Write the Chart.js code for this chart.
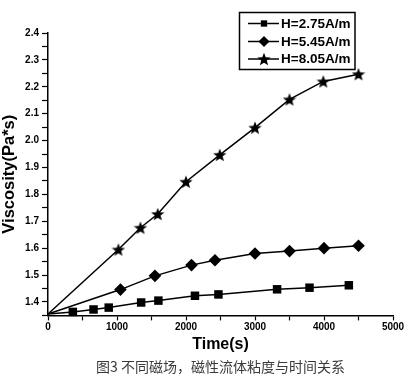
<!DOCTYPE html>
<html>
<head>
<meta charset="utf-8">
<script src="https://cdn.jsdelivr.net/npm/chart.js@4"></script>
<style>
html,body{margin:0;padding:0;background:#fff;}
#c{display:block;}
</style>
</head>
<body>
<canvas id="c" width="406" height="381"></canvas>
<script>
// ---- data ----
const seriesLabels = ["H=2.75A/m", "H=5.45A/m", "H=8.05A/m"];
const timeA = [0, 360, 660, 880, 1350, 1600, 2130, 2470, 3320, 3790, 4360];
const viscA = [1.355, 1.363, 1.372, 1.379, 1.398, 1.405, 1.423, 1.428, 1.447, 1.453, 1.462];
const timeB = [0, 1050, 1550, 2080, 2420, 3000, 3500, 4000, 4500];
const viscB = [1.355, 1.446, 1.497, 1.537, 1.555, 1.580, 1.589, 1.600, 1.609];
const timeC = [0, 1020, 1340, 1590, 2000, 2490, 3000, 3500, 3990, 4500];
const viscC = [1.355, 1.595, 1.676, 1.727, 1.847, 1.947, 2.048, 2.153, 2.220, 2.247];
const xTitle = "Time(s)";
const yTitle = "Viscosity(Pa*s)";
const caption = "图3 不同磁场，磁性流体粘度与时间关系";

// filled five-point star marker
function makeStar(size) {
  const cv = document.createElement('canvas');
  cv.width = size; cv.height = size;
  const g = cv.getContext('2d');
  const cx = size / 2, cy = size / 2 + 0.7, R = size / 2, r = R * 0.42;
  g.beginPath();
  for (let i = 0; i < 10; i++) {
    const a = -Math.PI / 2 + i * Math.PI / 5;
    const rr = i % 2 === 0 ? R : r;
    const px = cx + rr * Math.cos(a), py = cy + rr * Math.sin(a);
    i === 0 ? g.moveTo(px, py) : g.lineTo(px, py);
  }
  g.closePath();
  g.fillStyle = '#000';
  g.fill();
  return cv;
}
const starImg = makeStar(14);

function pts(xs, ys) { return xs.map((x, i) => ({x: x, y: ys[i]})); }

const datasets = [
  {label: seriesLabels[0], data: pts(timeA, viscA), pointStyle: 'rect', pointRadius: c => c.dataIndex === 0 ? 0 : 6},
  {label: seriesLabels[1], data: pts(timeB, viscB), pointStyle: 'rectRot', pointRadius: c => c.dataIndex === 0 ? 0 : 6.3},
  {label: seriesLabels[2], data: pts(timeC, viscC), pointStyle: starImg, pointRadius: c => c.dataIndex === 0 ? 0 : 7}
].map(d => Object.assign({
  showLine: true, borderColor: '#000', backgroundColor: '#000', borderWidth: 1.5,
  pointBackgroundColor: '#000', pointBorderColor: '#000', pointBorderWidth: 0,
  tension: 0, clip: false
}, d));

const legendPlugin = {
  id: 'boxLegend',
  afterDraw(chart) {
    const ctx = chart.ctx;
    ctx.save();
    const bx = 239.5, by = 12.5, bw = 115.5, bh = 57;
    ctx.fillStyle = '#fff';
    ctx.fillRect(bx, by, bw, bh);
    ctx.strokeStyle = '#000';
    ctx.lineWidth = 1.5;
    ctx.strokeRect(bx, by, bw, bh);
    const ys = [23.5, 41.5, 59];
    chart.data.datasets.forEach((ds, i) => {
      const y = ys[i];
      ctx.beginPath();
      ctx.moveTo(248, y); ctx.lineTo(279, y);
      ctx.strokeStyle = '#000'; ctx.lineWidth = 1.5; ctx.stroke();
      const r = i === 0 ? 4.5 : (i === 1 ? 5.3 : 6);
      Chart.helpers.drawPoint(ctx, {pointStyle: ds.pointStyle, radius: r, borderWidth: 0, rotation: 0}, 264, y);
      ctx.fillStyle = '#000';
      ctx.fill();
      ctx.font = 'bold 13.5px "Liberation Sans", Arial, sans-serif';
      ctx.textBaseline = 'middle';
      ctx.textAlign = 'left';
      ctx.fillText(ds.label, 281, y + 0.5);
    });
    ctx.restore();
  }
};

const tickFont = {family: '"Liberation Sans", Arial, sans-serif', size: 10, weight: 'bold'};

new Chart(document.getElementById('c'), {
  type: 'scatter',
  data: {datasets: datasets},
  options: {
    responsive: false,
    animation: false,
    events: [],
    layout: {padding: {top: 33, right: 13, bottom: 0, left: 0}},
    plugins: {
      legend: {display: false},
      tooltip: {enabled: false},
      title: {
        display: true, position: 'bottom', fullSize: false, text: caption, color: '#3a3a3a',
        font: {family: '"Noto Sans CJK SC", sans-serif', size: 14, weight: 'normal', lineHeight: 1.2},
        padding: {top: 0, bottom: 6}
      }
    },
    scales: {
      x: {
        type: 'linear', min: 0, max: 5000,
        ticks: {stepSize: 500, color: '#000', font: tickFont, padding: 1, maxRotation: 0, autoSkip: false,
          callback: v => (Math.round(v) % 1000 === 0 ? String(Math.round(v)) : '')},
        grid: {display: true, drawOnChartArea: false, drawTicks: true, tickLength: 5, tickColor: '#000', tickWidth: 1.2},
        border: {display: true, color: '#000', width: 1.5},
        title: {display: true, text: xTitle, color: '#000',
          font: {family: '"Liberation Sans", Arial, sans-serif', size: 16, weight: 'bold', lineHeight: 1.2},
          padding: {top: 0, bottom: 4}},
        afterFit: s => { s.height = 42.8; }
      },
      y: {
        type: 'linear', min: 1.35, max: 2.4,
        ticks: {stepSize: 0.05, color: '#000', font: tickFont, padding: 3, autoSkip: false,
          callback: v => { const k = Math.round(v * 100); return (k % 10 === 0) ? (k / 100).toFixed(1) : ''; }},
        grid: {display: true, drawOnChartArea: false, drawTicks: true, tickLength: 6, tickColor: '#000', tickWidth: 1.2},
        border: {display: true, color: '#000', width: 1.5},
        title: {display: true, text: yTitle, color: '#000',
          font: {family: '"Liberation Sans", Arial, sans-serif', size: 16.5, weight: 'bold', lineHeight: 1.2},
          padding: {top: 0, bottom: 0}},
        afterFit: s => { s.width = 48; }
      }
    }
  },
  plugins: [legendPlugin]
});
</script>
</body>
</html>
